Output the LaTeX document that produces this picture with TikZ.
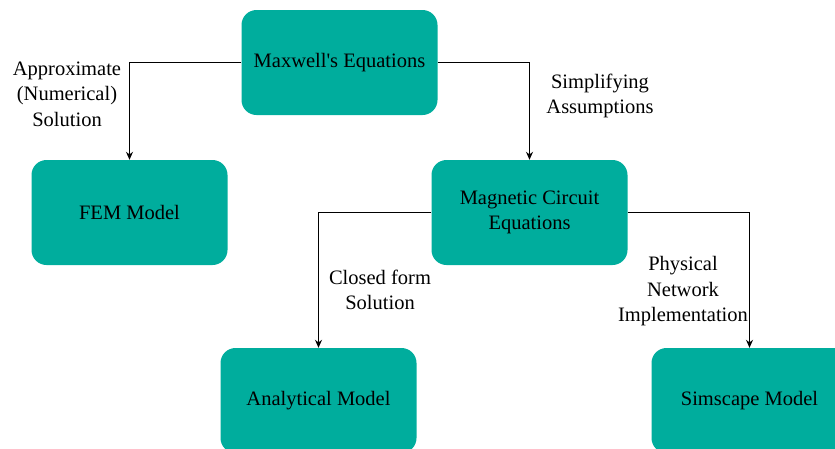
\documentclass[tikz,border=0pt]{standalone}
\usepackage{fontspec}
\setmainfont{Liberation Serif}
\usetikzlibrary{arrows.meta, positioning}
\definecolor{modelteal}{RGB}{0, 173, 157}

\begin{document}
\begin{tikzpicture}[x=1pt, y=-1pt,
    block/.style={fill=modelteal, rounded corners=15pt, minimum width=196pt,
                  minimum height=105pt, inner sep=2pt, align=center,
                  font=\fontsize{20.5}{25.5}\selectfont},
    remark/.style={align=center, inner sep=0pt, font=\fontsize{20.5}{25.5}\selectfont},
    link/.style={-{Stealth[length=8pt, width=7pt]}, line width=1pt}
]
    \useasboundingbox (0,0) rectangle (835,448);

    % model blocks
    \node[block] (maxwell) at (339.5,62.5) {Maxwell\textquotesingle s Equations};
    \node[block] (fem) at (129.5,212.5) {FEM Model};
    \node[block] (circuit) at (529.5,212.5) {Magnetic Circuit\\Equations};
    \node[block] (analytical) at (318.5,400.5) {Analytical Model};
    \node[block] (simscape) at (749.5,400.5) {Simscape Model};

    % derivation steps
    \draw[link] (maxwell.west) -| (fem.north);
    \draw[link] (maxwell.east) -| (circuit.north);
    \draw[link] (circuit.west) -| (analytical.north);
    \draw[link] (circuit.east) -| (simscape.north);

    % step annotations
    \node[remark] (numerical) at (67,94) {Approximate\\(Numerical)\\Solution};
    \node[remark] (simplify) at (600,96) {Simplifying\\Assumptions};
    \node[remark] (closed) at (380,290) {Closed form\\Solution};
    \node[remark] (network) at (683,291.5) {Physical\\Network\\Implementation};
\end{tikzpicture}
\end{document}
